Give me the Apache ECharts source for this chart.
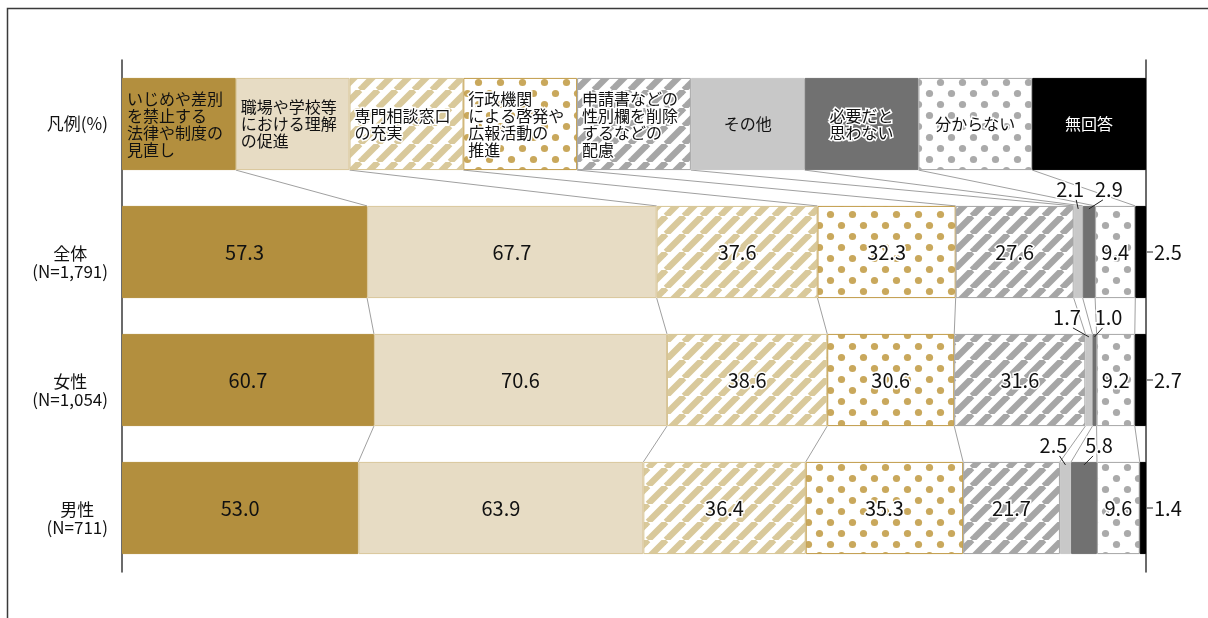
<!DOCTYPE html>
<html>
<head>
<meta charset="utf-8">
<script src="https://cdn.jsdelivr.net/npm/echarts@6/dist/echarts.min.js"></script>
<style>
  html, body { margin: 0; padding: 0; background: #fff; }
  #chart { width: 1208px; height: 618px; }
</style>
</head>
<body>
<div id="chart"></div>
<script>
// Answer choices, in stacking order
const items = [
  'いじめや差別\nを禁止する\n法律や制度の\n見直し',
  '職場や学校等\nにおける理解\nの促進',
  '専門相談窓口\nの充実',
  '行政機関\nによる啓発や\n広報活動の\n推進',
  '申請書などの\n性別欄を削除\nするなどの\n配慮',
  'その他',
  '必要だと\n思わない',
  '分からない',
  '無回答'
];
const legendTitle = '凡例(%)';
const groups = ['全体', '女性', '男性'];
const groupN = ['1,791', '1,054', '711'];

// Percentages per respondent group (multiple answers allowed)
const valuesAll    = [57.3, 67.7, 37.6, 32.3, 27.6, 2.1, 2.9, 9.4, 2.5];
const valuesFemale = [60.7, 70.6, 38.6, 30.6, 31.6, 1.7, 1.0, 9.2, 2.7];
const valuesMale   = [53.0, 63.9, 36.4, 35.3, 21.7, 2.5, 5.8, 9.6, 1.4];

// ---- layout & style ----
const FONT = '"Noto Sans CJK JP", "Noto Sans", sans-serif';
const BAR = 0.72;                       // bar thickness as share of the row band
const calloutShift = [[-8, 20], [-22, 14], [-12, 15]]; // label nudges for tiny segments

function stripes(color) {
  const s = 18, c = document.createElement('canvas');
  c.width = c.height = s;
  const g = c.getContext('2d');
  g.fillStyle = '#fff'; g.fillRect(0, 0, s, s);
  g.strokeStyle = color; g.lineWidth = 6.4;
  for (const o of [-s, 0, s]) { g.beginPath(); g.moveTo(o, s); g.lineTo(o + s, 0); g.stroke(); }
  return { image: c, repeat: 'repeat' };
}
function dots(color) {
  const s = 22, c = document.createElement('canvas');
  c.width = c.height = s;
  const g = c.getContext('2d');
  g.fillStyle = '#fff'; g.fillRect(0, 0, s, s);
  g.fillStyle = color;
  for (const [x, y] of [[5.5, 5.5], [16.5, 16.5]]) { g.beginPath(); g.arc(x, y, 3.6, 0, Math.PI * 2); g.fill(); }
  return { image: c, repeat: 'repeat' };
}

const styles = [
  { fill: '#b38f3e', border: '#b38f3e' },
  { fill: '#e7dcc4', border: '#d9c69a' },
  { fill: stripes('#d9c99b'), border: '#d6c493', halo: true },
  { fill: dots('#c9a85c'), border: '#c19b48', halo: true },
  { fill: stripes('#a6a6a6'), border: '#a3a3a3', halo: true },
  { fill: '#c8c8c8', border: '#c8c8c8' },
  { fill: '#717171', border: '#717171', halo: true },
  { fill: dots('#aaaaaa'), border: '#a6a6a6', halo: true },
  { fill: '#000000', border: '#000000' }
];

const rows = [valuesAll, valuesFemale, valuesMale];
const totals = rows.map(r => r.reduce((a, b) => a + b, 0));

// cumulative right edges of each segment (legend row first, equal shares)
const bounds = [items.map((_, k) => (k + 1) / items.length)];
rows.forEach((r, ri) => { let acc = 0; bounds.push(r.map(v => (acc += v) / totals[ri])); });

function legendItem(i) {
  const st = styles[i], left = i < 5;
  return {
    value: 1 / items.length,
    label: {
      show: true, formatter: items[i],
      position: left ? 'insideLeft' : 'inside', distance: 5,
      align: left ? 'left' : 'center',
      fontSize: 16, lineHeight: 17, fontFamily: FONT,
      color: i === 8 ? '#fff' : '#111',
      textBorderColor: st.halo ? '#fff' : 'transparent',
      textBorderWidth: st.halo ? 3 : 0
    }
  };
}
function dataItem(i, v, total) {
  const st = styles[i];
  return {
    value: v / total,
    label: {
      show: v >= 9, formatter: v.toFixed(1), position: 'inside',
      fontSize: 20, fontFamily: FONT, color: '#111',
      textBorderColor: st.halo ? '#fff' : 'transparent',
      textBorderWidth: st.halo ? 3 : 0
    }
  };
}

const barSeries = items.map((name, i) => ({
  type: 'bar', name, stack: 'total', barWidth: (BAR * 100) + '%',
  itemStyle: { color: styles[i].fill, borderColor: styles[i].border, borderWidth: 1 },
  data: [legendItem(i), ...rows.map((r, ri) => dataItem(i, r[i], totals[ri]))],
  z: 2
}));

// guide lines joining matching segment edges of consecutive rows
const connectorData = [];
for (let r = 0; r < bounds.length - 1; r++)
  for (let k = 0; k < items.length - 1; k++)
    connectorData.push([bounds[r][k], r, bounds[r + 1][k], r + 1]);

// callout labels for the narrow segments
const calloutData = [];
rows.forEach((r, ri) => {
  const row = ri + 1, b = bounds[row];
  [5, 6].forEach((k, j) => calloutData.push([(b[k - 1] + b[k]) / 2, row, r[k], j, calloutShift[ri][j]]));
  calloutData.push([b[8], row, r[8], 2, 0]);
});

function halfBar(api) {
  return (api.coord([0, 1])[1] - api.coord([0, 0])[1]) * BAR / 2;
}

function renderConnector(params, api) {
  const h = halfBar(api);
  const a = api.coord([api.value(0), api.value(1)]);
  const b = api.coord([api.value(2), api.value(3)]);
  return {
    type: 'line', silent: true,
    shape: { x1: a[0], y1: a[1] + h, x2: b[0], y2: b[1] - h },
    style: { stroke: '#a0a0a0', lineWidth: 1 }
  };
}

function renderCallout(params, api) {
  const h = halfBar(api);
  const p = api.coord([api.value(0), api.value(1)]);
  const v = api.value(2), kind = api.value(3), shift = api.value(4);
  const base = { text: v.toFixed(1), fontSize: 20, fontFamily: FONT, fill: '#111', verticalAlign: 'middle' };
  if (kind === 2) {
    return {
      type: 'group', children: [
        { type: 'line', shape: { x1: p[0] + 1, y1: p[1], x2: p[0] + 7, y2: p[1] }, style: { stroke: '#222', lineWidth: 1 } },
        { type: 'text', x: p[0] + 8, y: p[1], style: Object.assign({ align: 'left' }, base) }
      ]
    };
  }
  const top = p[1] - h, lx = p[0] + shift;
  const sx = kind === 0 ? lx + 6 : lx - 6;
  return {
    type: 'group', children: [
      { type: 'line', shape: { x1: sx, y1: top - 6, x2: p[0], y2: top + 3 }, style: { stroke: '#222', lineWidth: 1 } },
      { type: 'text', x: lx, y: top - 17, style: Object.assign({ align: 'center', stroke: '#fff', lineWidth: 3 }, base) }
    ]
  };
}

const yLabels = [legendTitle, ...groups.map((g, i) => g + '\n(N=' + groupN[i] + ')')];

const chart = echarts.init(document.getElementById('chart'));
chart.setOption({
  animation: false,
  backgroundColor: '#fff',
  grid: { left: 122, right: 62, top: 60, bottom: 46 },
  xAxis: { type: 'value', min: 0, max: 1, show: false },
  yAxis: [
    {
      type: 'category', inverse: true, data: yLabels,
      axisTick: { show: false },
      axisLine: { show: true, lineStyle: { color: '#3a3a3a', width: 1.5 } },
      axisLabel: {
        align: 'right', margin: 14,
        formatter: v => {
          const lines = v.split('\n').map(s => '{c|' + s + '}');
          return lines.length > 1 ? '{sp| }\n' + lines.join('\n') : lines[0];
        },
        rich: {
          c: { align: 'center', fontSize: 17, lineHeight: 18, fontFamily: FONT, color: '#111' },
          sp: { fontSize: 4, lineHeight: 22 }
        }
      }
    },
    {
      type: 'category', inverse: true, data: yLabels, position: 'right',
      axisTick: { show: false }, axisLabel: { show: false },
      axisLine: { show: true, lineStyle: { color: '#3a3a3a', width: 1.5 } }
    }
  ],
  graphic: [{
    type: 'rect', silent: true, z: 100,
    shape: { x: 7.5, y: 8.5, width: 1400, height: 800 },
    style: { fill: 'none', stroke: '#3a3a3a', lineWidth: 1.5 }
  }],
  series: [
    ...barSeries,
    { type: 'custom', clip: false, silent: true, z: 1, encode: { x: 0, y: 1 },
      renderItem: renderConnector, data: connectorData },
    { type: 'custom', clip: false, silent: true, z: 5, encode: { x: 0, y: 1 },
      renderItem: renderCallout, data: calloutData }
  ]
});
</script>
</body>
</html>
